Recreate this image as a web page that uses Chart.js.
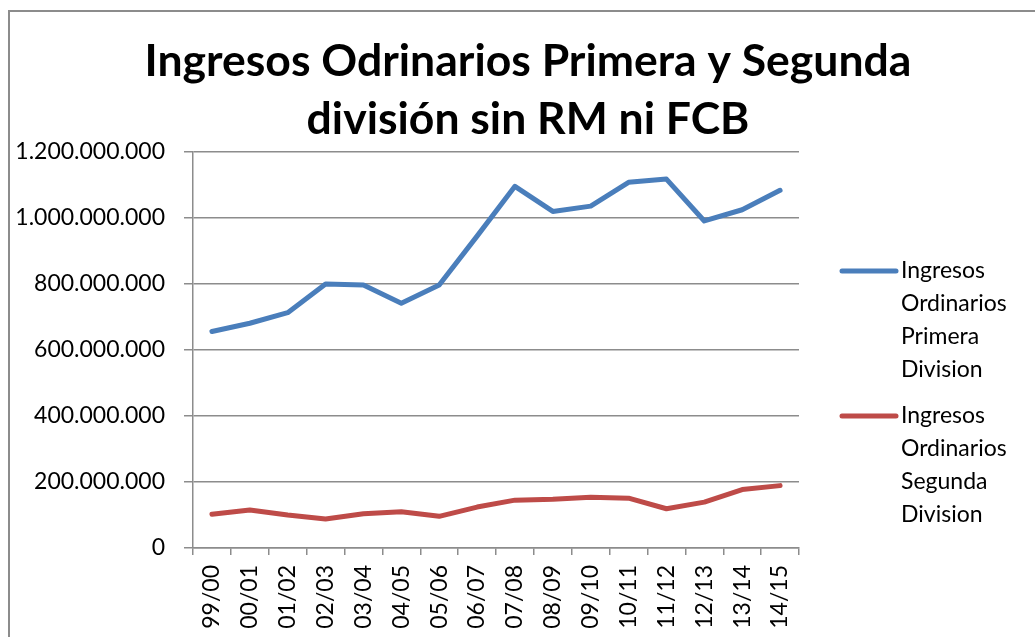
<!DOCTYPE html>
<html>
<head>
<meta charset="utf-8">
<script src="https://cdn.jsdelivr.net/npm/chart.js@4.4.1/dist/chart.umd.min.js"></script>
<style>
    html, body { margin: 0; padding: 0; background: #fff; overflow: hidden; }
    #wrap { position: relative; width: 1035px; height: 637px; overflow: hidden; }
    #frame {
        position: absolute; left: 8px; top: 10px; width: 1100px; height: 700px;
        border-left: 2px solid #8c8c8c; border-top: 2px solid #8c8c8c;
    }
    #c { position: absolute; left: 0; top: 0; }
</style>
</head>
<body>
<div id="wrap">
    <div id="frame"></div>
    <canvas id="c" width="1056" height="637"></canvas>
</div>
<script>
// Temporadas (eje X)
const seasons = ['99/00', '00/01', '01/02', '02/03', '03/04', '04/05', '05/06', '06/07',
                 '07/08', '08/09', '09/10', '10/11', '11/12', '12/13', '13/14', '14/15'];

// Ingresos ordinarios (euros)
const primera = [656e6, 681e6, 713e6, 800e6, 797e6, 742e6, 797e6, 945e6,
                 1096e6, 1020e6, 1036e6, 1108e6, 1118e6, 991e6, 1025e6, 1084e6];
const segunda = [102e6, 115e6, 100e6, 88e6, 104e6, 110e6, 96e6, 124e6,
                 145e6, 148e6, 154e6, 151e6, 119e6, 139e6, 177e6, 189e6];

const seriesNames = ['Ingresos Ordinarios Primera Division', 'Ingresos Ordinarios Segunda Division'];
const titleLines = ['Ingresos Odrinarios Primera y Segunda', 'división sin RM ni FCB'];

const FONT = 'Lato, "Open Sans", sans-serif';
const gridColor = '#8c8c8c';

function formatES(v) {
    return String(Math.round(v)).replace(/\B(?=(\d{3})+(?!\d))/g, '.');
}

// Legend drawn by hand so the labels can wrap like the original
const wrappedLegend = {
    id: 'wrappedLegend',
    afterDraw(chart) {
        const ctx = chart.ctx;
        const area = chart.chartArea;
        const lineH = 33;
        const x0 = area.right + 43;
        let y = 271;
        ctx.save();
        ctx.font = '23px ' + FONT;
        ctx.fillStyle = '#000';
        ctx.textBaseline = 'middle';
        ctx.textAlign = 'left';
        chart.data.datasets.forEach(ds => {
            const words = ds.label.split(' ');
            const lines = [];
            let cur = '';
            words.forEach(w => {
                const test = cur ? cur + ' ' + w : w;
                if (cur && ctx.measureText(test).width > 125) {
                    lines.push(cur);
                    cur = w;
                } else {
                    cur = test;
                }
            });
            if (cur) lines.push(cur);

            ctx.strokeStyle = ds.borderColor;
            ctx.lineWidth = 5;
            ctx.lineCap = 'round';
            ctx.beginPath();
            ctx.moveTo(x0, y);
            ctx.lineTo(x0 + 54, y);
            ctx.stroke();

            lines.forEach((ln, i) => ctx.fillText(ln, x0 + 59, y + i * lineH));
            y += lines.length * lineH + 13;
        });
        ctx.restore();
    }
};

new Chart(document.getElementById('c'), {
    type: 'line',
    data: {
        labels: seasons,
        datasets: [
            {
                label: seriesNames[0],
                data: primera,
                borderColor: '#4a7ebb',
                backgroundColor: '#4a7ebb',
                borderWidth: 5,
                pointRadius: 0,
                tension: 0,
                borderCapStyle: 'round',
                borderJoinStyle: 'round'
            },
            {
                label: seriesNames[1],
                data: segunda,
                borderColor: '#be4b48',
                backgroundColor: '#be4b48',
                borderWidth: 5,
                pointRadius: 0,
                tension: 0,
                borderCapStyle: 'round',
                borderJoinStyle: 'round'
            }
        ]
    },
    options: {
        responsive: false,
        animation: false,
        layout: {
            padding: 0
        },
        plugins: {
            legend: { display: false },
            tooltip: { enabled: false },
            title: {
                display: true,
                text: titleLines,
                color: '#000',
                font: { family: FONT, size: 44.5, weight: 'bold', lineHeight: 58 / 44.5 },
                padding: { top: 33, bottom: 3 }
            }
        },
        scales: {
            x: {
                offset: true,
                grid: {
                    offset: true,
                    drawOnChartArea: false,
                    drawTicks: true,
                    tickLength: 7,
                    color: gridColor,
                    lineWidth: 1.5
                },
                border: { color: gridColor, width: 1.5 },
                ticks: {
                    color: '#000',
                    font: { family: FONT, size: 23 },
                    minRotation: 90,
                    maxRotation: 90,
                    autoSkip: false,
                    padding: 10
                },
                afterFit(scale) { scale.height = 637 - 548; }
            },
            y: {
                min: 0,
                max: 1200000000,
                grid: {
                    color: gridColor,
                    lineWidth: 1.5,
                    tickLength: 9
                },
                border: { color: gridColor, width: 1.5 },
                ticks: {
                    stepSize: 200000000,
                    color: '#000',
                    font: { family: FONT, size: 23 },
                    padding: 19,
                    callback: v => formatES(v)
                },
                afterFit(scale) { scale.width = 193; }
            },
            // empty box on the right that reserves the legend column
            legendSpace: {
                position: 'right',
                grid: { display: false, drawOnChartArea: false },
                border: { display: false },
                ticks: { display: false },
                afterFit(scale) { scale.width = 1056 - 799; }
            }
        }
    },
    plugins: [wrappedLegend]
});
</script>
</body>
</html>
